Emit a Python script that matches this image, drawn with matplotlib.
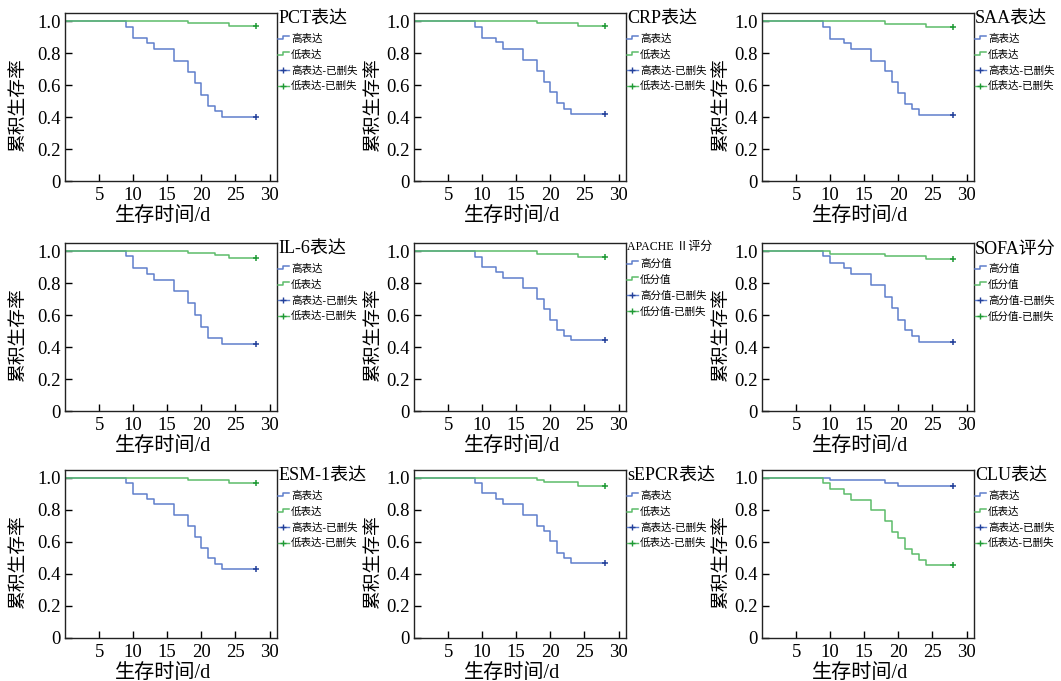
import matplotlib
matplotlib.use("Agg")
import matplotlib.pyplot as plt
from matplotlib.lines import Line2D
from matplotlib.legend_handler import HandlerBase

plt.rcParams['font.family'] = ['Liberation Serif', 'Noto Sans CJK SC']
plt.rcParams['axes.unicode_minus'] = False

# ---------------- data ----------------
CENSOR_DAY = 28
titles = ["PCT表达", "CRP表达", "SAA表达", "IL-6表达", "APACHE Ⅱ评分",
          "SOFA评分", "ESM-1表达", "sEPCR表达", "CLU表达"]
labels_expr = ["高表达", "低表达", "高表达-已删失", "低表达-已删失"]
labels_score = ["高分值", "低分值", "高分值-已删失", "低分值-已删失"]

x_ticks = [5, 10, 15, 20, 25, 30]
y_ticks = [0, 0.2, 0.4, 0.6, 0.8, 1.0]
y_tick_labels = ["0", "0.2", "0.4", "0.6", "0.8", "1.0"]

pct_high_t = [9, 10, 12, 13, 16, 18, 19, 20, 21, 22, 23]
pct_high_s = [0.965, 0.892, 0.860, 0.823, 0.752, 0.681, 0.610, 0.538, 0.469, 0.435, 0.398]
pct_low_t = [18, 24]
pct_low_s = [0.985, 0.969]

crp_high_t = [9, 10, 12, 13, 16, 18, 19, 20, 21, 22, 23]
crp_high_s = [0.964, 0.895, 0.868, 0.826, 0.755, 0.690, 0.620, 0.554, 0.487, 0.452, 0.418]
crp_low_t = [18, 24]
crp_low_s = [0.985, 0.969]

saa_high_t = [9, 10, 12, 13, 16, 18, 19, 20, 21, 22, 23]
saa_high_s = [0.960, 0.890, 0.860, 0.823, 0.752, 0.690, 0.620, 0.552, 0.480, 0.448, 0.415]
saa_low_t = [18, 24]
saa_low_s = [0.983, 0.965]

il6_high_t = [9, 10, 12, 13, 16, 18, 19, 20, 21, 23]
il6_high_s = [0.969, 0.892, 0.859, 0.818, 0.747, 0.677, 0.602, 0.528, 0.455, 0.416]
il6_low_t = [18, 22, 24]
il6_low_s = [0.985, 0.975, 0.959]

apache_high_t = [9, 10, 12, 13, 16, 18, 19, 20, 21, 22, 23]
apache_high_s = [0.965, 0.902, 0.867, 0.832, 0.768, 0.701, 0.635, 0.571, 0.508, 0.471, 0.442]
apache_low_t = [18, 24]
apache_low_s = [0.981, 0.965]

sofa_high_t = [9, 10, 12, 13, 16, 18, 19, 20, 21, 22, 23]
sofa_high_s = [0.969, 0.925, 0.892, 0.854, 0.787, 0.712, 0.642, 0.571, 0.504, 0.467, 0.431]
sofa_low_t = [10, 18, 24]
sofa_low_s = [0.983, 0.969, 0.948]

esm_high_t = [9, 10, 12, 13, 16, 18, 19, 20, 21, 22, 23]
esm_high_s = [0.969, 0.902, 0.869, 0.835, 0.771, 0.702, 0.631, 0.565, 0.498, 0.465, 0.433]
esm_low_t = [18, 24]
esm_low_s = [0.985, 0.969]

sepcr_high_t = [9, 10, 12, 13, 16, 18, 19, 20, 21, 22, 23]
sepcr_high_s = [0.969, 0.904, 0.868, 0.835, 0.768, 0.701, 0.669, 0.605, 0.533, 0.500, 0.469]
sepcr_low_t = [18, 19, 24]
sepcr_low_s = [0.990, 0.973, 0.952]

clu_high_t = [10, 18, 20]
clu_high_s = [0.985, 0.969, 0.952]
clu_low_t = [9, 10, 12, 13, 16, 18, 19, 20, 21, 22, 23, 24]
clu_low_s = [0.969, 0.931, 0.900, 0.865, 0.798, 0.729, 0.660, 0.623, 0.556, 0.523, 0.490, 0.454]

high_times = [pct_high_t, crp_high_t, saa_high_t, il6_high_t, apache_high_t,
              sofa_high_t, esm_high_t, sepcr_high_t, clu_high_t]
high_surv = [pct_high_s, crp_high_s, saa_high_s, il6_high_s, apache_high_s,
             sofa_high_s, esm_high_s, sepcr_high_s, clu_high_s]
low_times = [pct_low_t, crp_low_t, saa_low_t, il6_low_t, apache_low_t,
             sofa_low_t, esm_low_t, sepcr_low_t, clu_low_t]
low_surv = [pct_low_s, crp_low_s, saa_low_s, il6_low_s, apache_low_s,
            sofa_low_s, esm_low_s, sepcr_low_s, clu_low_s]

# ---------------- style ----------------
BLUE = '#5f7ecc'
BLUE_DARK = '#23409a'
GREEN = '#5cbc6a'
GREEN_DARK = '#1f9a35'

W, H = 1061, 681
cols_left = [65, 414, 762]
rows_top = [13, 243, 470]
ax_w, ax_h = 212, 168
ylabel_x = [-0.18, -0.15, -0.15]


class StepLine(Line2D):
    pass


class StepHandler(HandlerBase):
    def create_artists(self, legend, orig_handle, xdescent, ydescent,
                       width, height, fontsize, trans):
        x0 = -xdescent
        y0 = -ydescent
        xs = [x0, x0 + 0.45 * width, x0 + 0.45 * width, x0 + width]
        ys = [y0 + 0.35 * height, y0 + 0.35 * height, y0 + 0.8 * height, y0 + 0.8 * height]
        ln = Line2D(xs, ys, color=orig_handle.get_color(), lw=orig_handle.get_linewidth())
        ln.set_transform(trans)
        return [ln]


fig = plt.figure(figsize=(W / 100, H / 100), dpi=100)

for i in range(9):
    r, c = divmod(i, 3)
    left = cols_left[c] / W
    bottom = 1 - (rows_top[r] + ax_h) / H
    ax = fig.add_axes([left, bottom, ax_w / W, ax_h / H])

    for times, surv, col, dcol in [(high_times[i], high_surv[i], BLUE, BLUE_DARK),
                                   (low_times[i], low_surv[i], GREEN, GREEN_DARK)]:
        xs = [0] + list(times) + [CENSOR_DAY]
        ys = [1.0] + list(surv) + [surv[-1]]
        ax.plot(xs, ys, drawstyle='steps-post', color=col, lw=1.1)
        ax.plot([CENSOR_DAY], [surv[-1]], marker='+', color=dcol, ms=5, mew=1.1, ls='none')

    ax.set_xlim(0, 31.1)
    ax.set_ylim(0, 1.05)
    ax.set_xticks(x_ticks)
    ax.set_yticks(y_ticks)
    ax.set_yticklabels(y_tick_labels)
    ax.tick_params(direction='in', length=5, width=1, labelsize=13.5, pad=4)
    ax.tick_params(axis='y', pad=3)
    for sp in ax.spines.values():
        sp.set_linewidth(1.0)
        sp.set_color('#222222')
    ax.set_xlabel("生存时间/d", fontsize=14.5, va='top')
    ax.xaxis.set_label_coords(0.462, -0.155)
    ax.set_ylabel("累积生存率", fontsize=13.5)
    ax.yaxis.set_label_coords(ylabel_x[c], 0.45)

    labs = labels_score if i in (4, 5) else labels_expr
    handles = [StepLine([], [], color=BLUE, lw=1.1),
               StepLine([], [], color=GREEN, lw=1.1),
               Line2D([], [], color=BLUE, lw=1.0, marker='+', ms=5, mec=BLUE_DARK),
               Line2D([], [], color=GREEN, lw=1.0, marker='+', ms=5, mec=GREEN_DARK)]
    common = dict(loc='upper left', frameon=False, fontsize=7.6,
                  handlelength=1.0, handletextpad=0.25,
                  labelspacing=0.55, borderpad=0, borderaxespad=0.1,
                  alignment='left', numpoints=1,
                  handler_map={StepLine: StepHandler()})
    if i == 4:
        # narrow (condensed-looking) title drawn separately so entries line up
        ax.text(1.005, 1.01, titles[i], transform=ax.transAxes, va='top',
                ha='left', fontsize=8.6)
        ax.legend(handles, labs, bbox_to_anchor=(1.0, 0.915), **common)
    else:
        ax.legend(handles, labs, title=titles[i], title_fontsize=13,
                  bbox_to_anchor=(1.0, 1.02), **common)

fig.savefig("out.png", dpi=100, facecolor='white')
